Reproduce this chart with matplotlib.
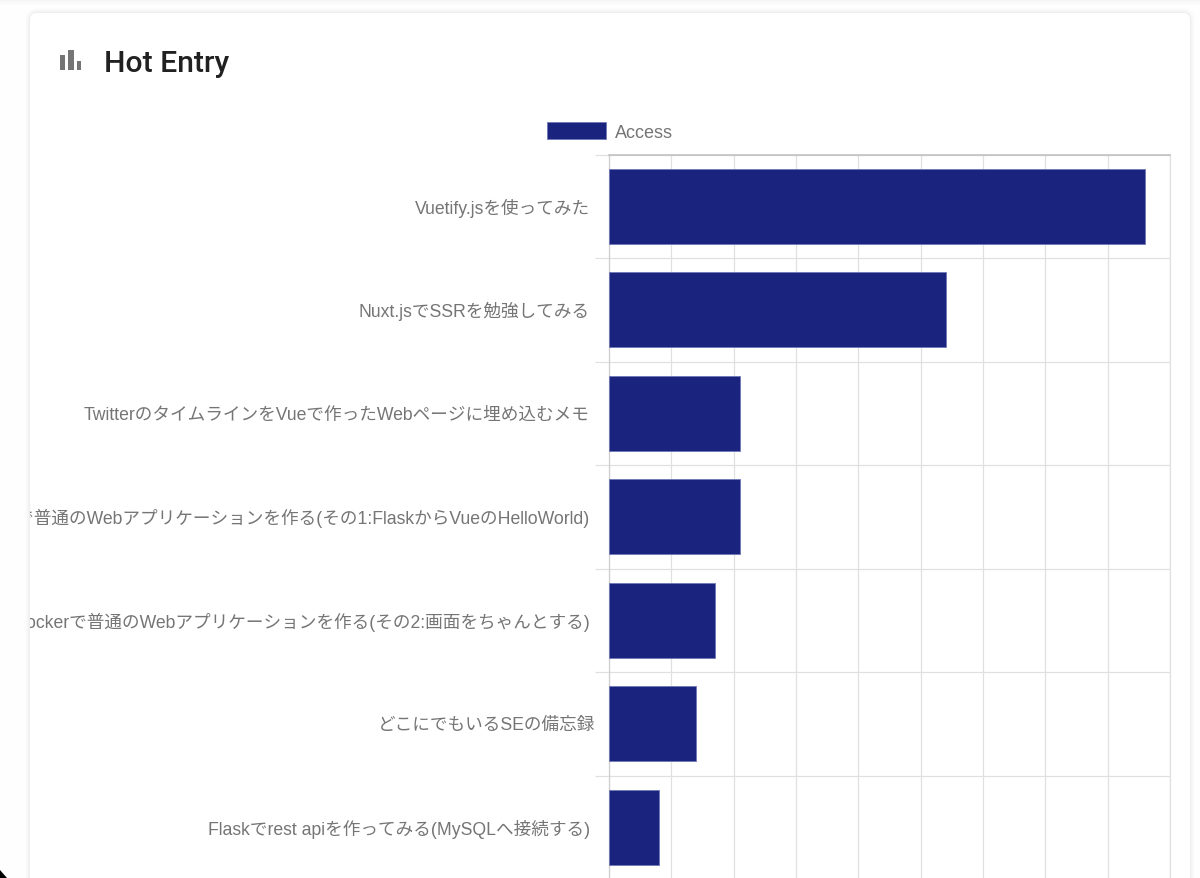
import matplotlib
matplotlib.use("Agg")
import matplotlib.pyplot as plt
from matplotlib.patches import FancyBboxPatch, Rectangle, Polygon
from matplotlib.transforms import Affine2D, Bbox

plt.rcParams['font.family'] = ['Liberation Sans', 'Noto Sans CJK JP', 'DejaVu Sans']

categories = [
    "Vuetify.jsを使ってみた",
    "Nuxt.jsでSSRを勉強してみる",
    "TwitterのタイムラインをVueで作ったWebページに埋め込むメモ",
    "Flask+Vue+Dockerで普通のWebアプリケーションを作る(その1:FlaskからVueのHelloWorld)",
    "Flask+Vue+Dockerで普通のWebアプリケーションを作る(その2:画面をちゃんとする)",
    "どこにでもいるSEの備忘録",
    "Flaskでrest apiを作ってみる(MySQLへ接続する)",
]
access = [430, 270, 105, 105, 85, 70, 40]
x_ticks = list(range(0, 451, 50))
series_name = "Access"
title = "Hot Entry"

W, H = 1200, 879
fig = plt.figure(figsize=(W / 100, H / 100), dpi=100, facecolor='#fefefe')
px = Affine2D().scale(1, -1).translate(0, H)

# window corner, top strip, card shadow and card
fig.add_artist(Polygon([(0, 871), (7, 879), (0, 879)], closed=True, transform=px,
                       fc='black', ec='none', zorder=-6))
for h, alpha in [(2, 0.012), (4, 0.012), (6, 0.01)]:
    fig.add_artist(Rectangle((0, 0), W, h, transform=px, fc='black', ec='none', alpha=alpha, zorder=-5))
for grow, alpha in [(5, 0.006), (4, 0.008), (3, 0.01), (2, 0.014), (1, 0.02)]:
    fig.add_artist(FancyBboxPatch((30 - grow, 14 - grow), 1160 + 2 * grow, 900,
                                  boxstyle=f"round,pad=0,rounding_size={8 + grow}",
                                  transform=px, fc='black', ec='none', alpha=alpha, zorder=-4))
fig.add_artist(FancyBboxPatch((30, 14), 1160, 900, boxstyle="round,pad=0,rounding_size=7",
                              transform=px, fc='white', ec='none', zorder=-3))
for x0, x1, y0 in [(60, 65, 56), (68, 74, 51), (77, 81, 62)]:
    fig.add_artist(Rectangle((x0, y0), x1 - x0, 71 - y0, transform=px, fc='#757575', ec='none', zorder=2))
fig.text(104 / W, 1 - 72 / H, title, family=['Roboto'], weight='medium', fontsize=21.7, color='#212121')

ax = fig.add_axes([609 / W, (H - 880) / H, 561 / W, 724.5 / H], facecolor='none')
bars = ax.barh(range(len(categories)), access, height=0.72, color='#1a237e',
               edgecolor='#6f79b8', linewidth=0.6, label=series_name, zorder=3)
ax.set_xlim(0, 450)
ax.set_ylim(len(categories) - 0.5, -0.5)
ax.set_xticks(x_ticks)
ax.tick_params(axis='x', length=0, labelbottom=False)
ax.set_yticks(range(len(categories)))
ax.set_yticklabels(categories)
ax.set_yticks([i - 0.5 for i in range(len(categories) + 1)], minor=True)
ax.tick_params(axis='y', which='major', length=0, pad=13.7, labelsize=12.7, labelcolor='#757575')
ax.tick_params(axis='y', which='minor', length=10, width=0.9, color='#e0e0e0')
ax.grid(True, which='minor', axis='y', color='#e0e0e0', lw=0.9, zorder=0)
ax.grid(True, which='major', axis='x', color='#e0e0e0', lw=0.9, zorder=0)
ax.set_axisbelow(True)

for name, c, lw in [('left', '#cfcfcf', 0.9), ('right', '#e0e0e0', 0.9), ('bottom', '#e0e0e0', 0.9)]:
    ax.spines[name].set_color(c)
    ax.spines[name].set_linewidth(lw)
ax.spines['top'].set_color('#bdbdbd')
ax.spines['top'].set_linewidth(1.1)
ax.spines['top'].set_zorder(4)

# the line that sits closer to the axis, and the top border running over the tick stub
ax.yaxis.get_major_ticks()[5].set_pad(10.1)
ax.yaxis.get_minor_ticks()[0].tick1line.set_color('#bdbdbd')

clip = Bbox([[30, 0], [W, H]])
for lab in ax.get_yticklabels():
    lab.set_clip_box(clip)
    lab.set_clip_on(True)
    lab.set_transform(lab.get_transform() + Affine2D().translate(0, 1.2))

fig.legend(handles=[bars], labels=[series_name], loc='center left',
           bbox_to_anchor=(547 / W, 1 - 132.5 / H), frameon=False, fontsize=13,
           labelcolor='#757575', handlelength=3.28, handleheight=1.05,
           handletextpad=0.5, borderpad=0, borderaxespad=0)

fig.savefig("out.png", dpi=100, facecolor=fig.get_facecolor())
